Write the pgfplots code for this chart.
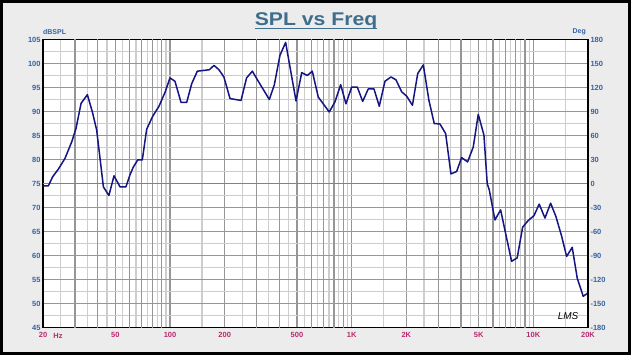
\documentclass[border=0pt]{standalone}
\usepackage{pgfplots}
\pgfplotsset{compat=1.18}
\usepackage{fontspec}
\setmainfont{Liberation Sans}
\definecolor{bgc}{RGB}{236,236,236}
\definecolor{gridDark}{RGB}{150,150,150}
\definecolor{gridLight}{RGB}{205,205,205}
\definecolor{ylab}{RGB}{52,98,165}
\definecolor{xlab}{RGB}{185,40,110}
\definecolor{titlec}{RGB}{62,110,140}
\definecolor{curve}{RGB}{20,20,130}
\definecolor{zeroline}{RGB}{120,120,210}
\begin{document}
\begin{tikzpicture}[x=1bp,y=1bp]
\fill[bgc] (0,0) rectangle (631,355);
\draw[black, line width=3bp] (1.5,1.5) rectangle (629.5,353.5);
\fill[white] (43,27.5) rectangle (588,315.5);
\begin{semilogxaxis}[
  at={(43bp,27.5bp)}, anchor=south west,
  scale only axis, width=545bp, height=288bp,
  xmin=20, xmax=20000, ymin=45, ymax=105,
  axis line style={black, line width=1.3bp},
  xtick={20,50,100,200,500,1000,2000,5000,10000,20000},
  xticklabels={20,50,100,200,500,1K,2K,5K,10K,20K},
  extra x ticks={30,40,60,70,80,90,300,400,600,700,800,900,3000,4000,6000,7000,8000,9000},
  extra x tick labels={},
  extra x tick style={xmajorgrids=true},
  minor xtick={25,35,45,55,65,75,85,95,150,250,350,450,550,650,750,850,950,1500,2500,3500,4500,5500,6500,7500,8500,9500,15000},
  ytick={45,50,55,60,65,70,75,80,85,90,95,100,105},
  minor ytick={47.5,52.5,57.5,62.5,67.5,72.5,77.5,82.5,87.5,92.5,97.5,102.5},
  xmajorgrids=true, xminorgrids=true, ymajorgrids=true, yminorgrids=true,
  major grid style={draw=gridDark, line width=1.2bp, line cap=rect},
  minor grid style={draw=gridLight, line width=1.2bp, line cap=rect},
  major tick length=0pt, minor tick length=0pt,
  /pgf/number format/assume math mode=true,
  ticklabel style={font=\fontsize{7.5}{8}\selectfont\bfseries},
  xticklabel style={text=xlab, yshift=-1bp},
  yticklabel style={text=ylab, xshift=1bp},
]
\addplot[draw=zeroline, line width=1.2bp] coordinates {(20,75) (20000,75)};
\addplot[draw=curve, line width=1.5bp, line join=round] coordinates {
(20,74.5) (21.4,74.5) (22.6,76.4) (24.3,78.0) (26.4,80.2) (28.8,83.7) (30.4,86.5)
(32.4,91.7) (35.1,93.5) (37.4,89.9) (39.5,86.1) (43.0,74.3) (46.1,72.5) (49.2,76.6)
(53.1,74.3) (57.2,74.3) (60.2,76.8) (62.8,78.4) (66.4,79.9) (70.4,79.9) (74.4,86.3)
(80.3,89.0) (87.0,91.1) (93.9,94.0) (100,97.0) (106.5,96.3) (115,91.9) (123.6,91.9)
(131.7,95.8) (141.4,98.4) (164.6,98.7) (174.7,99.6) (186,98.7) (198,97.2) (214,92.7)
(246,92.3) (264,97.0) (284,98.4) (304,96.5) (326,94.6) (352,92.5) (375,95.5)
(403,101.7) (433,104.4) (461,98.6) (494,92.2) (531,98.1) (570,97.5) (607,98.4)
(655,93.0) (753,89.9) (809,92.0) (870,95.6) (930,91.6) (1000,95.1) (1074,95.1)
(1150,92.1) (1234,94.7) (1327,94.7) (1419,91.1) (1525,96.3) (1646,97.2) (1754,96.6)
(1885,94.1) (2008,93.2) (2160,91.3) (2310,97.9) (2480,99.7) (2663,92.3) (2848,87.5)
(3062,87.4) (3291,85.4) (3520,77.0) (3784,77.5) (4029,80.4) (4347,79.5) (4669,82.6)
(4975,89.4) (5346,85.1) (5573,75.0) (5719,73.7) (6145,67.4) (6607,69.5) (7066,64.3)
(7594,58.8) (8150,59.5) (8730,65.9) (9380,67.3) (10080,68.3) (10770,70.7) (11590,67.8)
(12450,70.9) (13320,68.1) (14320,64.0) (15250,59.8) (16370,61.7) (17440,55.3)
(18820,51.5) (20000,52.2)
};
\end{semilogxaxis}
\begin{axis}[
  at={(43bp,27.5bp)}, anchor=south west,
  scale only axis, width=545bp, height=288bp,
  xmin=0, xmax=1, ymin=-180, ymax=180,
  axis x line=none,
  axis y line*=right,
  axis line style={black, line width=1.3bp},
  ytick={-180,-150,...,180},
  major tick length=0pt,
  /pgf/number format/assume math mode=true,
  ticklabel style={font=\fontsize{7.5}{8}\selectfont\bfseries},
  yticklabel style={text=ylab, xshift=-1bp},
]
\end{axis}
\node[anchor=base, text=titlec, inner sep=0, font=\fontsize{18.5}{20}\selectfont\bfseries, xscale=1.15] (t) at (316,329.5) {SPL vs Freq};
\draw[titlec, line width=1.6bp] (255,326.5) -- (377,326.5);
\node[text=ylab, font=\fontsize{7}{8}\selectfont\bfseries, anchor=west, inner sep=0] at (43,323) {dBSPL};
\node[text=ylab, font=\fontsize{7}{8}\selectfont\bfseries, anchor=east, inner sep=0] at (586,323) {Deg};
\node[text=xlab, font=\fontsize{7.5}{8}\selectfont\bfseries, inner sep=0] at (58,19.5) {Hz};
\node[font=\fontsize{10}{11}\selectfont\itshape, inner sep=0] at (568,39) {LMS};
\end{tikzpicture}
\end{document}
